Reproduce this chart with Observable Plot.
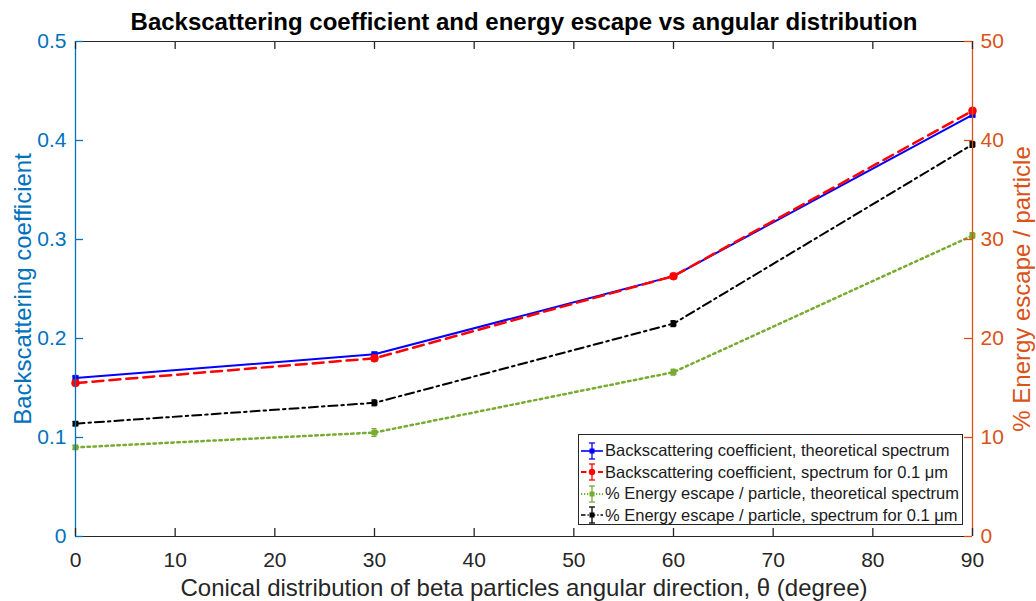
<!DOCTYPE html>
<html><head><meta charset="utf-8">
<script src="https://cdn.jsdelivr.net/npm/d3@7"></script>
<script src="https://cdn.jsdelivr.net/npm/@observablehq/plot@0.6"></script>
<style>
body{margin:0;background:#fff;font-family:"Liberation Sans",Arial,sans-serif;}
#wrap{position:relative;width:1036px;height:601px;}
#legend{position:absolute;left:578px;top:434px;width:385px;height:91px;border:1px solid #262626;background:#fff;font-size:16.5px;box-sizing:border-box;padding-top:5px;color:#1a1a1a;}
.row{display:flex;align-items:center;height:21.5px;white-space:nowrap;}
.row svg{margin-left:1px;margin-right:1px;}
</style></head><body>
<div id="wrap"></div>
<script>
// ---- data ----
const angles = [0, 30, 60, 90];
const bsTheory = [0.160, 0.184, 0.263, 0.426];
const bsTheoryErr = [0.002, 0.002, 0.002, 0.002];
const bsSpec = [0.155, 0.180, 0.263, 0.430];
const bsSpecErr = [0.002, 0.003, 0.002, 0.002];
const enTheory = [9.0, 10.5, 16.6, 30.4];
const enTheoryErr = [0.2, 0.4, 0.3, 0.3];
const enSpec = [11.4, 13.5, 21.5, 39.6];
const enSpecErr = [0.2, 0.3, 0.3, 0.3];
const seriesNames = [
  "Backscattering coefficient, theoretical spectrum",
  "Backscattering coefficient, spectrum for 0.1 μm",
  "% Energy escape / particle, theoretical spectrum",
  "% Energy escape / particle, spectrum for 0.1 μm"
];
const xTicks = [0, 10, 20, 30, 40, 50, 60, 70, 80, 90];
const leftTicks = [0, 0.1, 0.2, 0.3, 0.4, 0.5];
const leftTickLabels = ["0", "0.1", "0.2", "0.3", "0.4", "0.5"];
const rightTickLabels = [0, 10, 20, 30, 40, 50];
const titleText = "Backscattering coefficient and energy escape vs angular distribution";
const xLabel = "Conical distribution of beta particles angular direction, θ (degree)";
const leftLabel = "Backscattering coefficient";
const rightLabel = "% Energy escape / particle";

// ---- styles / layout ----
const LEFT_COLOR = "#0072BD", RIGHT_COLOR = "#D95319", AX = "#262626";
const W = 1036, H = 601, ML = 75, MR = 64, MT = 41, MB = 65, TL = 8;
const FW = W - ML - MR, FH = H - MT - MB;
const styles = [
  {stroke: "#0000FF", dash: null, width: 2, symbol: "square", r: 3.2, fill: "#0000FF"},
  {stroke: "#FF0000", dash: "11,6", width: 2.5, symbol: "circle", r: 4, fill: "#FF0000"},
  {stroke: "#77AC30", dash: "2.5,3.5", width: 2.5, symbol: "square", r: 3, fill: "#77AC30"},
  {stroke: "#000000", dash: "9,4,2.5,4", width: 2, symbol: "square", r: 3, fill: "#000000"}
];

// rows (energy series mapped onto left scale: % / 100)
const seriesData = [
  {vals: bsTheory, errs: bsTheoryErr, k: 1},
  {vals: bsSpec, errs: bsSpecErr, k: 1},
  {vals: enTheory, errs: enTheoryErr, k: 0.01},
  {vals: enSpec, errs: enSpecErr, k: 0.01}
].map((s, i) => angles.map((a, j) => ({
  x: a, y: s.vals[j] * s.k, lo: (s.vals[j] - s.errs[j]) * s.k, hi: (s.vals[j] + s.errs[j]) * s.k, series: i
})));

const marks = [];
seriesData.forEach((rows, i) => {
  const st = styles[i];
  marks.push(Plot.line(rows, {x: "x", y: "y", stroke: st.stroke, strokeWidth: st.width, strokeDasharray: st.dash}));
  marks.push(Plot.ruleX(rows, {x: "x", y1: "lo", y2: "hi", stroke: st.stroke, strokeWidth: 1.2}));
  marks.push(Plot.ruleY(rows, {y: "lo", x1: "x", x2: "x", insetLeft: -2.5, insetRight: -2.5, stroke: st.stroke, strokeWidth: 1.2}));
  marks.push(Plot.ruleY(rows, {y: "hi", x1: "x", x2: "x", insetLeft: -2.5, insetRight: -2.5, stroke: st.stroke, strokeWidth: 1.2}));
  marks.push(Plot.dot(rows, {x: "x", y: "y", symbol: st.symbol, r: st.r, fill: st.fill, stroke: st.stroke, strokeWidth: 0.5}));
});

const FONT = "'Liberation Sans', Arial, sans-serif";
const chart = Plot.plot({
  width: W, height: H,
  marginLeft: ML, marginRight: MR, marginTop: MT, marginBottom: MB,
  style: {fontFamily: FONT, background: "#fff", overflow: "visible"},
  x: {domain: [0, 90], label: null},
  y: {domain: [0, 0.5], label: null},
  marks: [
    ...marks,
    // frame lines
    Plot.ruleY([0], {stroke: AX, strokeWidth: 1.2}),
    Plot.ruleY([0.5], {stroke: AX, strokeWidth: 1.2}),
    Plot.ruleX([0], {stroke: LEFT_COLOR, strokeWidth: 1.3}),
    Plot.ruleX([90], {stroke: RIGHT_COLOR, strokeWidth: 1.3}),
    // inward ticks
    Plot.tickX(xTicks, {x: d => d, insetTop: FH - TL, stroke: AX, strokeWidth: 1.3}),
    Plot.tickX(xTicks, {x: d => d, insetBottom: FH - TL, stroke: AX, strokeWidth: 1.3}),
    Plot.tickY(leftTicks, {y: d => d, insetRight: FW - TL, stroke: LEFT_COLOR, strokeWidth: 1.3}),
    Plot.tickY(leftTicks, {y: d => d, insetLeft: FW - TL, stroke: RIGHT_COLOR, strokeWidth: 1.3}),
    // tick labels
    Plot.axisX(xTicks, {anchor: "bottom", tickSize: 0, tickPadding: 16, fontSize: 21, fill: AX, label: null}),
    Plot.axisY(leftTicks, {anchor: "left", tickSize: 0, tickPadding: 9, fontSize: 21, fill: LEFT_COLOR, label: null,
      tickFormat: (d, i) => leftTickLabels[i]}),
    Plot.axisY(rightTickLabels.map(d => d / 100), {anchor: "right", tickSize: 0, tickPadding: 8, fontSize: 21, fill: RIGHT_COLOR, label: null,
      tickFormat: (d, i) => String(rightTickLabels[i])}),
    // titles
    Plot.text([titleText], {frameAnchor: "top", lineAnchor: "middle", dy: -19, fontSize: 24, fontWeight: "bold", fill: "#000"}),
    Plot.text([xLabel], {frameAnchor: "bottom", lineAnchor: "middle", dy: 52, fontSize: 24, fill: AX}),
    Plot.text([leftLabel], {frameAnchor: "left", textAnchor: "middle", lineAnchor: "middle", rotate: -90, dx: -52, fontSize: 24, fill: LEFT_COLOR}),
    Plot.text([rightLabel], {frameAnchor: "right", textAnchor: "middle", lineAnchor: "middle", rotate: -90, dx: 50, fontSize: 24, fill: RIGHT_COLOR})
  ]
});
const wrap = document.getElementById("wrap");
wrap.appendChild(chart);

// legend (HTML overlay)
const legend = document.createElement("div");
legend.id = "legend";
seriesNames.forEach((name, i) => {
  const st = styles[i];
  const row = document.createElement("div");
  row.className = "row";
  const ns = "http://www.w3.org/2000/svg";
  const svg = document.createElementNS(ns, "svg");
  svg.setAttribute("width", 24); svg.setAttribute("height", 20);
  const mk = (tag, attrs) => { const e = document.createElementNS(ns, tag); for (const k in attrs) e.setAttribute(k, attrs[k]); svg.appendChild(e); return e; };
  mk("line", {x1: 1, x2: 23, y1: 10, y2: 10, stroke: st.stroke, "stroke-width": st.width * 0.8, "stroke-dasharray": st.dash ? st.dash.split(",").map(v => v * 0.5).join(",") : "none"});
  mk("line", {x1: 12, x2: 12, y1: 2, y2: 18, stroke: st.stroke, "stroke-width": 1.3});
  mk("line", {x1: 9, x2: 15, y1: 2, y2: 2, stroke: st.stroke, "stroke-width": 1.3});
  mk("line", {x1: 9, x2: 15, y1: 18, y2: 18, stroke: st.stroke, "stroke-width": 1.3});
  if (st.symbol === "circle") mk("circle", {cx: 12, cy: 10, r: 3.2, fill: st.fill});
  else mk("rect", {x: 9.5, y: 7.5, width: 5, height: 5, fill: st.fill});
  row.appendChild(svg);
  const span = document.createElement("span");
  span.textContent = name;
  row.appendChild(span);
  legend.appendChild(row);
});
wrap.appendChild(legend);
</script>
</body></html>
